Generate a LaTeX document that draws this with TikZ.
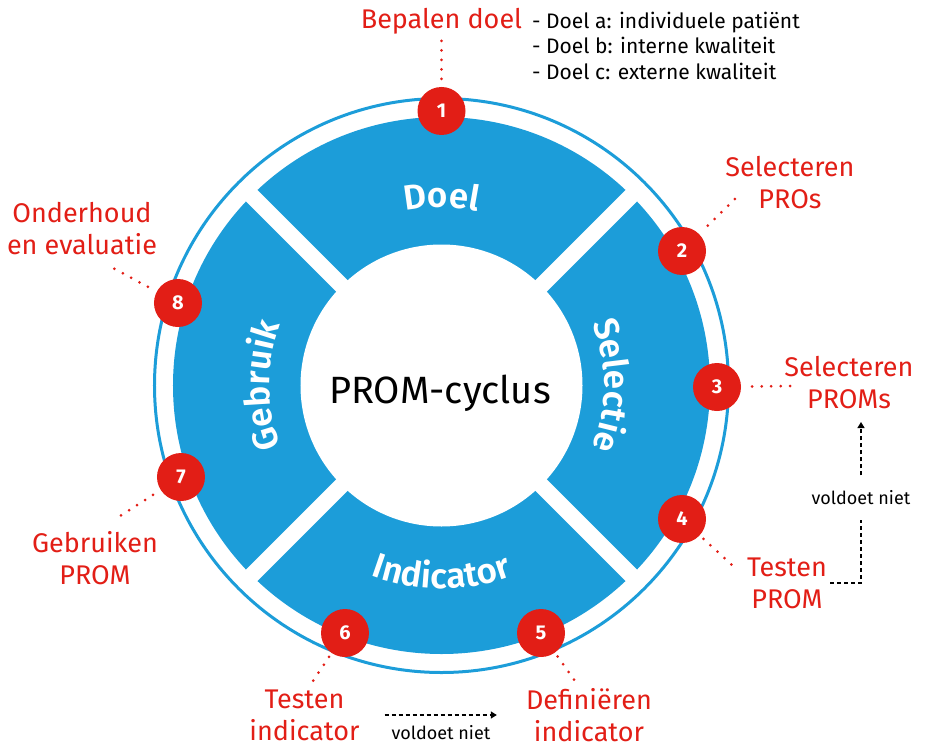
\documentclass[tikz,border=0pt]{standalone}
\usepackage{fontspec}
\setmainfont{Fira Sans}
\newfontfamily\segfam{Fira Sans}[UprightFont={* SemiBold}, LetterSpace=6]
\usetikzlibrary{decorations.text,arrows.meta}
\definecolor{promblue}{RGB}{28,157,217}
\definecolor{promred}{RGB}{226,30,22}
\newcommand\promseg{\segfam\fontsize{35}{40}\selectfont\color{white}}
\begin{document}
\begin{tikzpicture}[x=1pt,y=1pt,
  numc/.style={circle, fill=promred, minimum size=48pt, inner sep=0pt, text=white, font=\fontsize{20}{20}\selectfont\bfseries},
  redlab/.style={text=promred, align=center, inner sep=0pt, font=\fontsize{27}{32}\selectfont},
  dotline/.style={promred, line width=3pt, line cap=round, dash pattern=on 0pt off 9.5pt},
  nietline/.style={black, line width=1.2pt, dash pattern=on 4pt off 3pt},
  nietarrow/.style={nietline, -{Triangle[length=6pt,width=7pt]}},
  smalltext/.style={font=\fontsize{18}{20}\selectfont, inner sep=0pt},
  segtext/.style={decorate, decoration={text along path, text align=center, text={|\promseg|#1}}}
]
\useasboundingbox (-441.5,-361.5) rectangle (483.5,385.5);
% ring
\fill[promblue] (0,0) circle[radius=268.5];
\fill[white] (0,0) circle[radius=141];
\draw[white, line width=16pt] (45:272) -- (225:272);
\draw[white, line width=16pt] (135:272) -- (315:272);
\draw[promblue, line width=3pt] (0,0) circle[radius=287];
\node[font=\fontsize{38}{40}\selectfont, anchor=base, inner sep=0pt] (center) at (-1.5,-17.5) {PROM-cyclus};
% segment labels
\path[segtext={Doel}] (120:178) arc[start angle=120, end angle=60, radius=178];
\path[segtext={Selectie}] (30:163) arc[start angle=30, end angle=-30, radius=163];
\path[segtext={Gebruik}] (210:172) arc[start angle=210, end angle=150, radius=172];
\path[segtext={Indicator}] (235:203) arc[start angle=235, end angle=305, radius=203];
% numbered circles
\node[numc] (c1) at (0,274.5) {1};
\node[numc] (c2) at (240.5,134.5) {2};
\node[numc] (c3) at (275.5,-1.5) {3};
\node[numc] (c4) at (240.5,-133.5) {4};
\node[numc] (c5) at (99.5,-247.5) {5};
\node[numc] (c6) at (-96.5,-247.5) {6};
\node[numc] (c7) at (-260.5,-91.5) {7};
\node[numc] (c8) at (-263.5,82.5) {8};
% labels
\node[redlab, anchor=base] (l1) at (0,356.5) {Bepalen doel};
\node[anchor=north west, align=left, inner sep=0pt, font=\fontsize{21}{25.8}\selectfont] (list) at (90.5,374) {- Doel a: individuele patiënt\\- Doel b: interne kwaliteit\\- Doel c: externe kwaliteit};
\node[redlab] (l2) at (348.5,202.5) {Selecteren\\PROs};
\node[redlab] (l3) at (407.5,2.5) {Selecteren\\PROMs};
\node[redlab] (l4) at (345.5,-197.5) {Testen\\PROM};
\node[redlab] (l5) at (147.5,-329.5) {Definiëren\\indicator};
\node[redlab] (l6) at (-137,-329.5) {Testen\\indicator};
\node[redlab] (l7) at (-346.5,-172.5) {Gebruiken\\PROM};
\node[redlab] (l8) at (-359.5,156.5) {Onderhoud\\en evaluatie};
% dotted connectors
\coordinate (d1) at (0,345.5);
\coordinate (d2) at (295.5,188.5);
\coordinate (d3) at (350.5,-0.5);
\coordinate (d4) at (291.5,-180.5);
\coordinate (d5) at (133.5,-295.5);
\coordinate (d6) at (-128.5,-295.5);
\coordinate (d7) at (-321.5,-130.5);
\coordinate (d8) at (-328.5,117.5);
\draw[dotline, shorten <=8pt] (c1) -- (d1);
\draw[dotline, shorten <=12pt] (c2) -- (d2);
\draw[dotline, shorten <=11pt] (c3) -- (d3);
\draw[dotline, shorten <=5pt] (c4) -- (d4);
\draw[dotline, shorten <=4.5pt] (c5) -- (d5);
\draw[dotline, shorten <=4.5pt] (c6) -- (d6);
\draw[dotline, shorten <=9pt] (c7) -- (d7);
\draw[dotline, shorten <=10pt] (c8) -- (d8);
% voldoet niet loops
\node[smalltext, minimum height=44pt] (vn1) at (419.5,-112) {voldoet niet};
\coordinate (tip1) at (419.5,-36.5);
\draw[nietline] ([xshift=3pt]l4.east) -| (vn1.south);
\draw[nietarrow] (vn1.north) -- (tip1);
\node[smalltext] (vn2) at (-0.5,-347.5) {voldoet niet};
\draw[nietarrow, shorten <=25pt, shorten >=29pt] (l6.east) -- (l5.west);
\end{tikzpicture}
\end{document}
